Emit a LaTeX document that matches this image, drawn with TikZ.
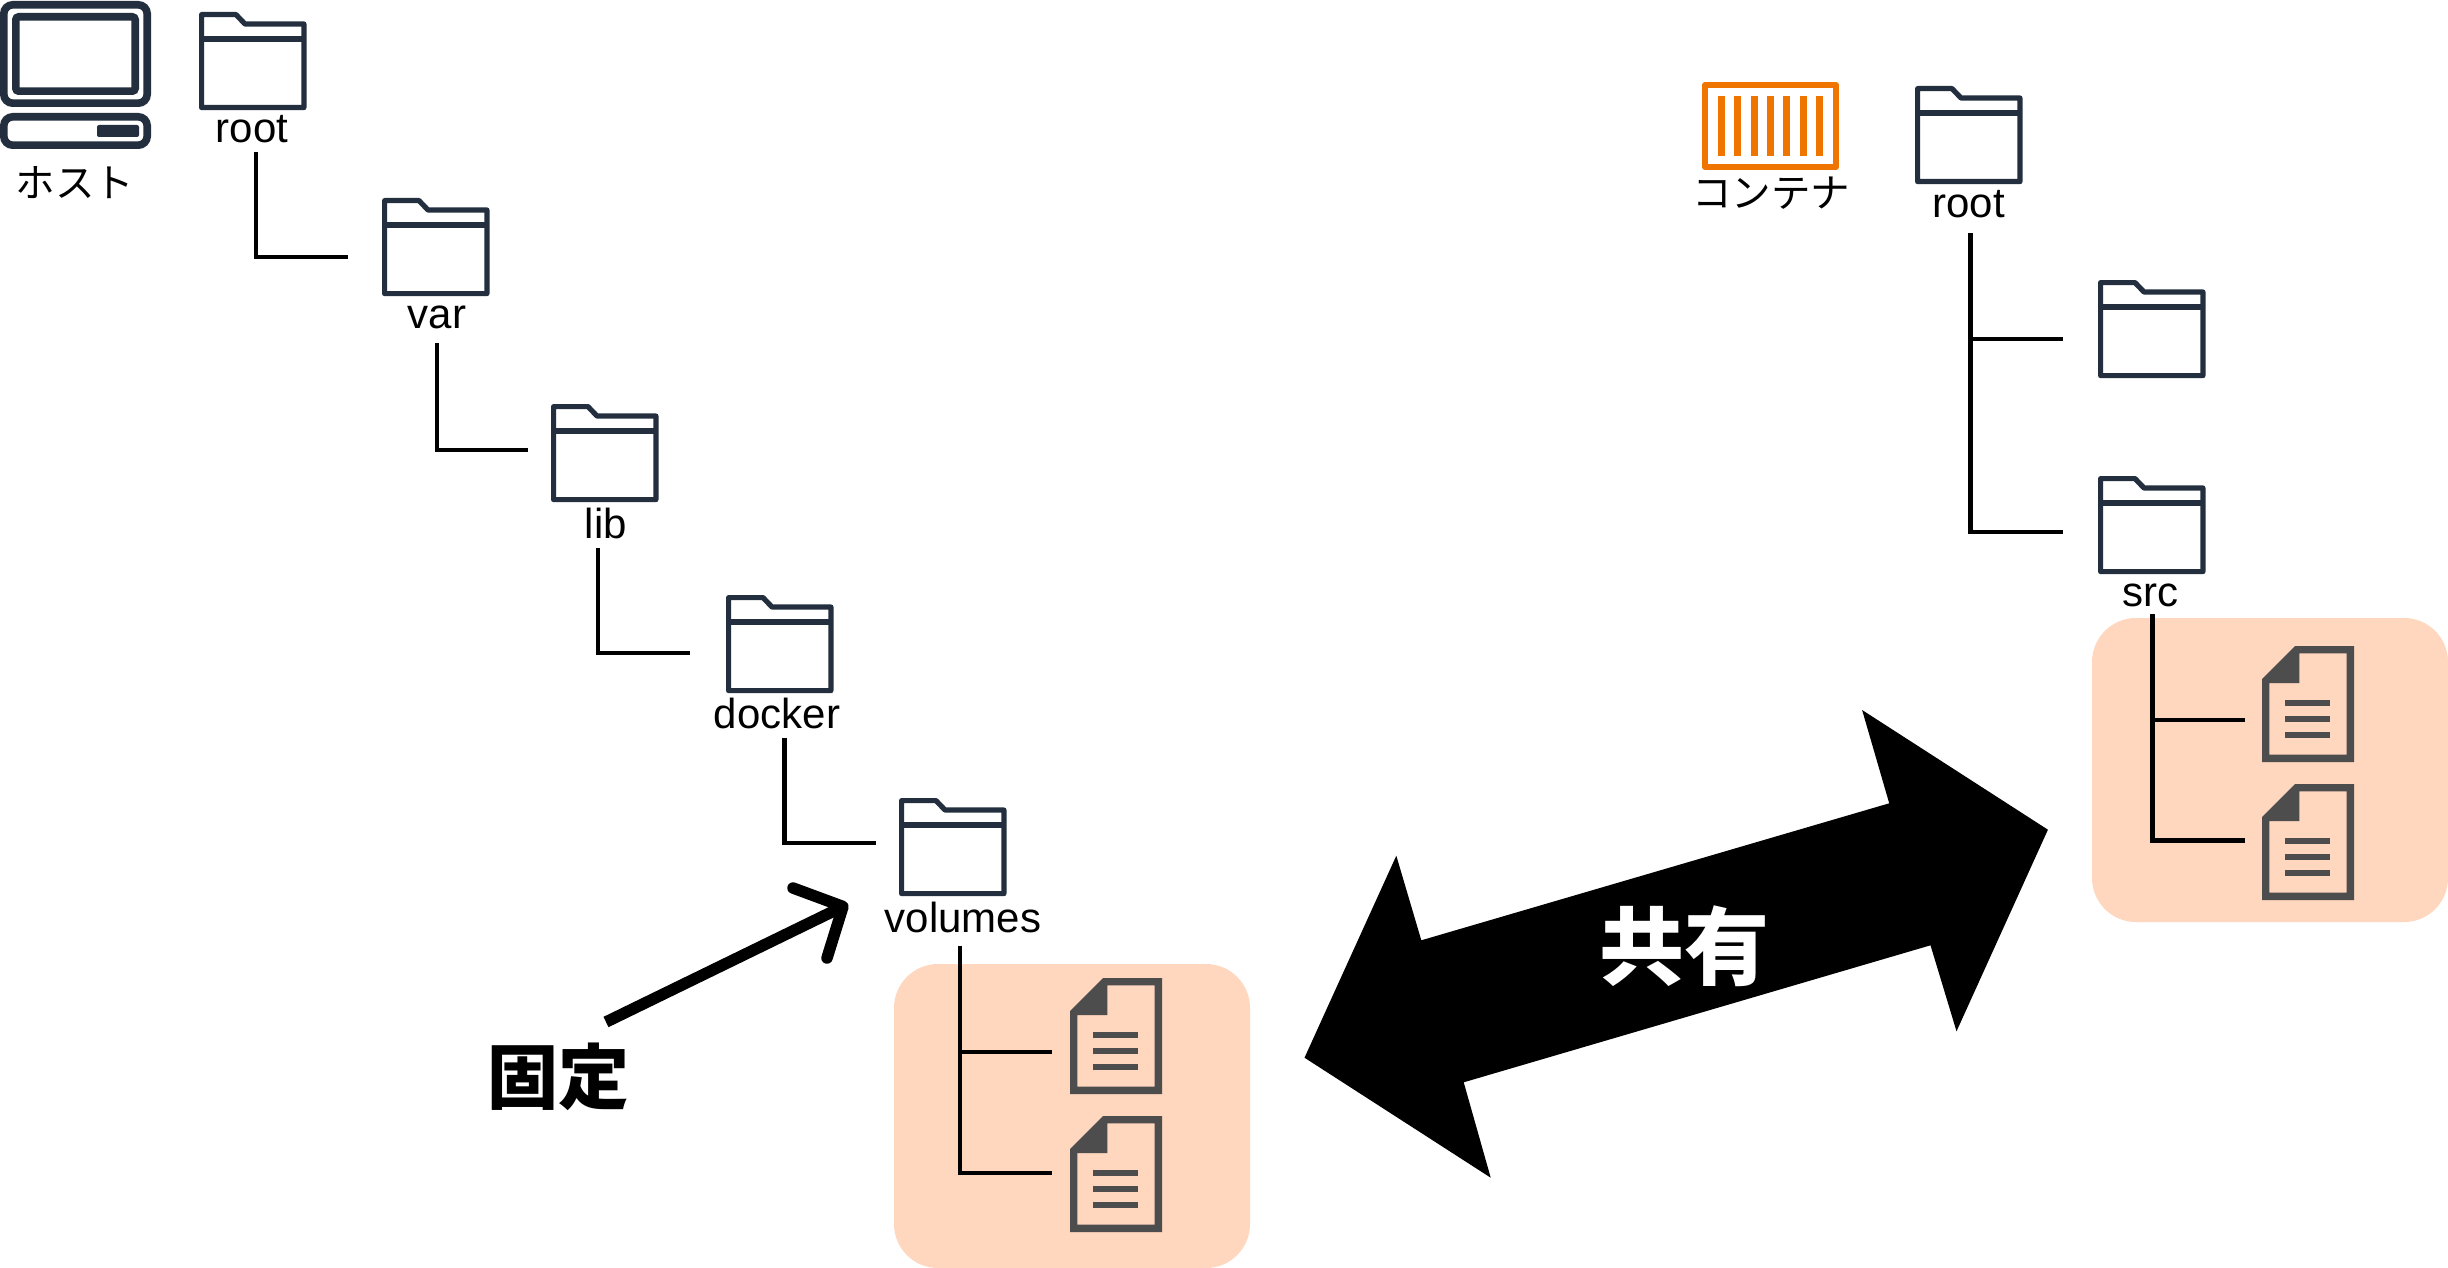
\documentclass[tikz,border=0pt]{standalone}
\usepackage{fontspec}
\setmainfont{Liberation Sans}
\newfontfamily\cjk{Noto Sans CJK JP}
\usetikzlibrary{calc}
\definecolor{navy}{HTML}{232F3E}
\definecolor{peach}{HTML}{FFD6BE}
\definecolor{docgray}{HTML}{4D4D4D}
\definecolor{orangec}{HTML}{F07500}
\tikzset{
  x=1pt,y=-1pt,
  foldline/.style={draw=navy,line width=5.2pt,line join=round},
  tree/.style={draw=black,line width=4.6pt,line cap=butt,line join=miter},
  lbl/.style={inner sep=0pt,anchor=base,font=\fontsize{42}{42}\selectfont},
  jp/.style={inner sep=0pt,anchor=center,font=\fontsize{39.5}{39.5}\selectfont\cjk},
  jpbold/.style={inner sep=0pt,anchor=center,font=\fontsize{71}{71}\selectfont\cjk\bfseries},
  box/.style={fill=peach,rounded corners=44pt},
  bar/.style={fill=docgray,draw=none}
}
\newcommand{\folderat}[3]{% name, x, y of top-left
  \begin{scope}[shift={(#2,#3)}]
    \draw[foldline] (2.6,2.6) -- (37,2.6) -- (46,12) -- (104.9,12) -- (104.9,95.6) -- (2.6,95.6) -- cycle;
    \draw[foldline] (2.6,27) -- (104.9,27);
    \coordinate (#1) at (53.7,49);
  \end{scope}}
\newcommand{\docat}[3]{%
  \begin{scope}[shift={(#2,#3)}]
    \fill[docgray,even odd rule] (0,33) -- (33,0) -- (92,0) -- (92,116) -- (0,116) -- cycle
      (7.3,37) -- (37.3,37) -- (37.3,7.3) -- (84.7,7.3) -- (84.7,108.7) -- (7.3,108.7) -- cycle;
    \fill[bar] (23,54) rectangle (68,60);
    \fill[bar] (23,70) rectangle (68,76);
    \fill[bar] (23,86) rectangle (68,92);
    \coordinate (#1) at (46,58);
  \end{scope}}
\begin{document}
\begin{tikzpicture}
\useasboundingbox (0,0) rectangle (2448,1268);
\fill[white] (0,0) rectangle (2448,1268);
% peach boxes
\fill[box] (894,964) rectangle (1250,1268);
\fill[box] (2092,618) rectangle (2448,922);
% host icon
\draw[navy,line width=7.6pt,rounded corners=9pt] (3.8,4.8) rectangle (147.2,103.2);
\draw[navy,line width=7.6pt,rounded corners=3pt] (15.8,16.8) rectangle (135.2,91.2);
\draw[navy,line width=7.6pt,rounded corners=9pt] (3.8,116.8) rectangle (147.2,145.2);
\fill[navy,rounded corners=2pt] (97,125) rectangle (139,137);
\node[jp] (hostlabel) at (75,183) {ホスト};
% container icon
\draw[orangec,line width=6pt,line join=round] (1705,85) rectangle (1836,167);
\foreach \i in {0,...,6} {
  \fill[orangec] ({1717.8+\i*16.35},96) rectangle ({1724.8+\i*16.35},156);
}
\node[jp] (contlabel) at (1771,193) {コンテナ};
% folders
\folderat{froot}{199}{12}
\folderat{fvar}{382}{198}
\folderat{flib}{551}{404}
\folderat{fdocker}{726}{595}
\folderat{fvolumes}{899}{798}
\folderat{croot}{1915}{86}
\folderat{cmid}{2098}{280}
\folderat{csrc}{2098}{476}
% labels
\node[lbl] (lroot) at (252,143) {root};
\node[lbl] (lvar) at (437,328) {var};
\node[lbl] (llib) at (606,538) {lib};
\node[lbl] (ldocker) at (777,728) {docker};
\node[lbl] (lvolumes) at (963,932) {volumes};
\node[lbl] (lcroot) at (1968.5,217.5) {root};
\node[lbl] (lsrc) at (2150,606) {src};
% docs
\docat{d1}{1070}{978}
\docat{d2}{1070}{1116}
\docat{d3}{2262}{646}
\docat{d4}{2262}{784}
% tree connectors
\coordinate (a1) at (256,152); \coordinate (a2) at (348,257);
\draw[tree] (a1) |- (a2);
\coordinate (b1) at (437,343); \coordinate (b2) at (528,450);
\draw[tree] (b1) |- (b2);
\coordinate (c1) at (598,548); \coordinate (c2) at (690,653);
\draw[tree] (c1) |- (c2);
\coordinate (e1) at (784.5,738); \coordinate (e2) at (876,843);
\draw[tree] (e1) |- (e2);
\coordinate (v0) at (960,946); \coordinate (v1) at (1052,1052); \coordinate (v2) at (1052,1173);
\draw[tree] (v0) |- (v2);
\draw[tree] (960,1052) -- (v1);
\coordinate (r0) at (1970.6,233); \coordinate (r1) at (2063,339); \coordinate (r2) at (2063,532);
\draw[tree] (r0) |- (r2);
\draw[tree] (1970.6,339) -- (r1);
\coordinate (s0) at (2152.5,614); \coordinate (s1) at (2244.7,720); \coordinate (s2) at (2244.7,840.5);
\draw[tree] (s0) |- (s2);
\draw[tree] (2152.5,720) -- (s1);
% fixed arrow
\coordinate (f0) at (606,1022); \coordinate (f1) at (842,907);
\draw[black,line width=11.5pt] (f0) -- (f1);
\draw[black,line width=11.5pt,line cap=round,line join=round] (793,888) -- (843,906.5) -- (827,958);
\node[jpbold] (fixed) at (558,1077) {固定};
% big arrow
\fill[black] (1304.5,1057.7) -- (1396.3,855.7) -- (1421.3,940.3) -- (1889.2,803.3) -- (1862.1,710) -- (2047.9,829.7) -- (1956.5,1031.3) -- (1930.5,945.3) -- (1463.7,1082.3) -- (1490.7,1177.7) -- cycle;
\node[inner sep=0pt,font=\fontsize{85}{85}\selectfont\cjk\bfseries,text=white] (shared) at (1684,946) {共有};
\end{tikzpicture}
\end{document}
